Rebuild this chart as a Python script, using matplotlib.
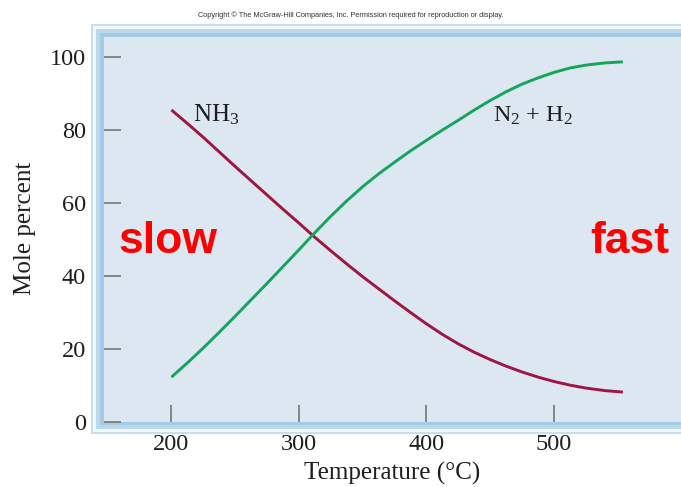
import matplotlib
matplotlib.use("Agg")
import matplotlib.pyplot as plt
from matplotlib.patches import Rectangle

temps = [200, 212.5, 225, 237.5, 250, 262.5, 275, 287.5, 300, 312.5, 325, 337.5, 350,
         362.5, 375, 387.5, 400, 412.5, 425, 437.5, 450, 462.5, 475, 487.5, 500, 512.5,
         525, 540, 554]
nh3 = [85.5, 81.8, 78.0, 74.0, 70.0, 66.1, 62.2, 58.3, 54.5, 50.6, 46.9, 43.3, 39.8,
       36.5, 33.2, 30.0, 26.9, 24.0, 21.4, 19.1, 17.1, 15.3, 13.7, 12.3, 11.1, 10.1,
       9.3, 8.6, 8.2]
n2h2 = [12.3, 16.2, 20.3, 24.6, 29.0, 33.5, 38.0, 42.6, 47.2, 51.9, 56.4, 60.6, 64.5,
        68.0, 71.2, 74.3, 77.2, 80.0, 82.7, 85.5, 88.1, 90.5, 92.6, 94.3, 95.8, 97.0,
        97.8, 98.4, 98.7]
xticks = [200, 300, 400, 500]
yticks = [0, 20, 40, 60, 80, 100]

plt.rcParams['mathtext.fontset'] = 'custom'
plt.rcParams['mathtext.rm'] = 'Liberation Serif'
plt.rcParams['mathtext.it'] = 'Liberation Serif:italic'

W, H = 681, 487
fig = plt.figure(figsize=(W / 100, H / 100), dpi=100)
fig.patch.set_facecolor('white')

def prect(x0, y0, x1, y1, color, z=0):
    r = Rectangle((x0 / W, 1 - y1 / H), (x1 - x0) / W, (y1 - y0) / H,
                  transform=fig.transFigure, facecolor=color, edgecolor='none', zorder=z)
    fig.add_artist(r)

# frame layers (pixel coords, top-left origin)
prect(91, 24, 681, 434, '#c6def0', -10)
prect(93, 26, 681, 432, '#f2f7fb', -9)
prect(96, 29, 681, 429, '#bcd9ec', -8)
prect(100, 33, 681, 425, '#a3cbe5', -7)

ax = fig.add_axes([104 / W, 1 - 422 / H, 577 / W, 385 / H])
ax.set_facecolor('#dce7f1')
for s in ax.spines.values():
    s.set_visible(False)
ax.set_xlim(147.1, 599.6)
ax.set_ylim(0, 105.5)

ax.plot(temps, nh3, color='#9e1641', lw=2.1, solid_capstyle='butt', solid_joinstyle='round')
ax.plot(temps, n2h2, color='#13a55a', lw=2.1, solid_capstyle='butt', solid_joinstyle='round')

ax.set_xticks(xticks)
ax.set_yticks(yticks)
ax.tick_params(direction='in', length=12.5, width=1.3, color='#7d7d7d',
               labelsize=17.5, labelcolor='#1e1e1e')
ax.tick_params(axis='y', pad=13)
ax.tick_params(axis='x', pad=9)
for lab in ax.get_xticklabels() + ax.get_yticklabels():
    lab.set_fontfamily('Liberation Serif')

serif = 'Liberation Serif'
ax.text(217.1, 82.3, 'NH$_3$', fontsize=18, family=serif, color='#1e1e1e', va='baseline', ha='left')
ax.text(452.2, 82.2, 'N$_2$ + H$_2$', fontsize=17.5, family=serif, color='#1e1e1e', va='baseline', ha='left')

fig.text(25 / W, 1 - 228 / H, 'Mole percent', rotation=90, ha='center', va='center',
         fontsize=18, family=serif, color='#1e1e1e')
fig.text(392 / W, 1 - 473 / H, 'Temperature (°C)', ha='center', va='center',
         fontsize=18, family=serif, color='#1e1e1e')

fig.text(118 / W, 1 - 253 / H, 'slow', ha='left', va='baseline', fontsize=32,
         family='Liberation Sans', weight='bold', color='#ff0000')
fig.text(590 / W, 1 - 253 / H, 'fast', ha='left', va='baseline', fontsize=32,
         family='Liberation Sans', weight='bold', color='#ff0000')

fig.text(351 / W, 1 - 15 / H,
         'Copyright © The McGraw-Hill Companies, Inc. Permission required for reproduction or display.',
         ha='center', va='center', fontsize=5.3, family='Liberation Sans', color='#333333')

fig.savefig('out.png', dpi=100)
